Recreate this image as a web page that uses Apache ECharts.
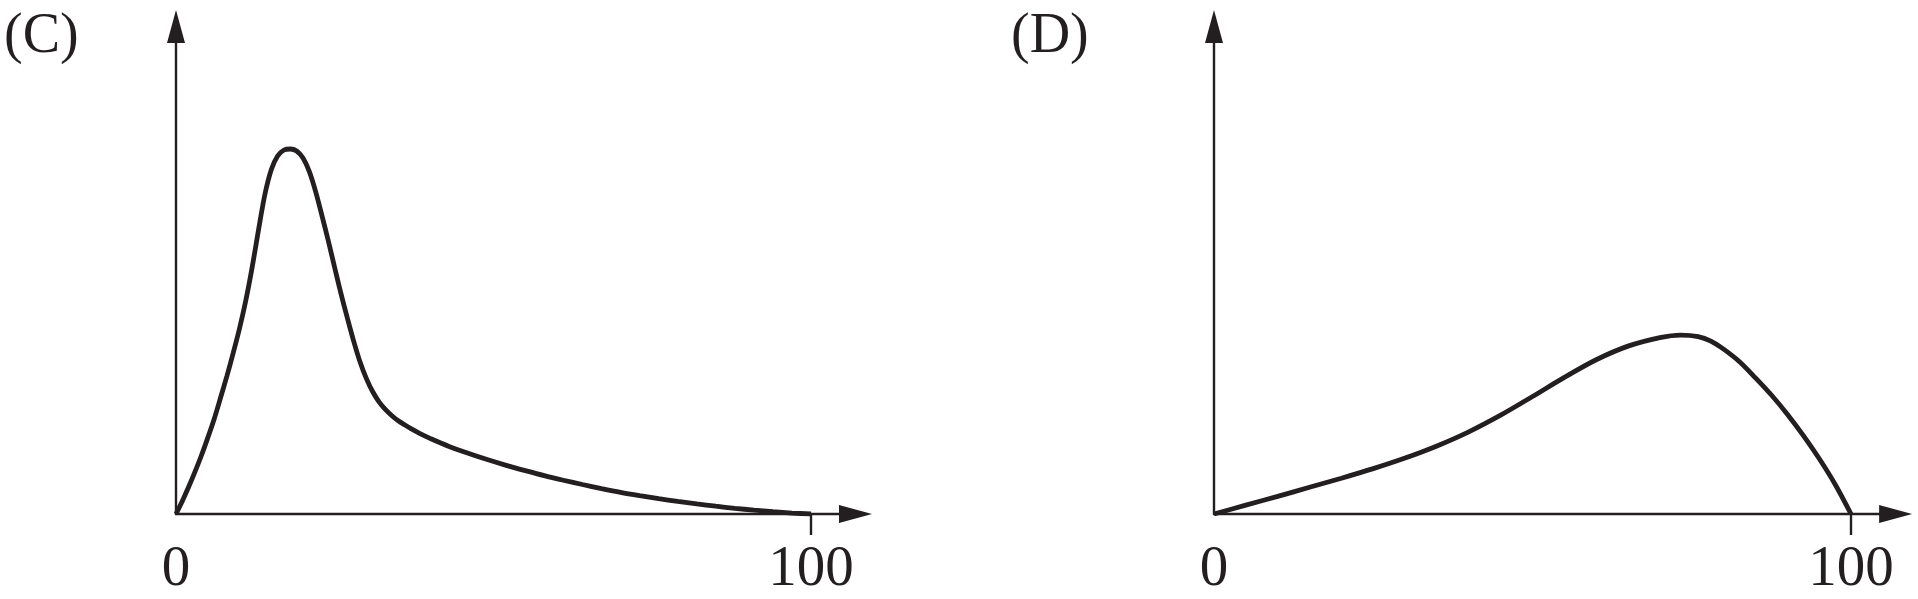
<!DOCTYPE html>
<html>
<head>
<meta charset="utf-8">
<script src="https://cdn.jsdelivr.net/npm/echarts@6/dist/echarts.min.js"></script>
<style>
  html, body { margin: 0; padding: 0; background: #fff; }
  #main { width: 1918px; height: 599px; }
</style>
</head>
<body>
<div id="main"></div>
<script>
  // 曲线 (C)：x 为 0~100，y 为相对高度
  var curveC = [
    [0, 0], [1, 2.6], [2, 5.4], [3, 8.4], [4, 11.6], [5, 15.1], [6, 18.8],
    [7, 23.0], [8, 27.3], [9, 31.9], [10, 36.8], [11, 42.4], [12, 49.0],
    [13, 56.4], [14, 63.4], [15, 68.3], [16, 71.0], [17, 72.2], [18, 72.4],
    [19, 72.0], [20, 70.6], [21, 67.9], [22, 63.9], [23, 59.1], [24, 54.1],
    [25, 48.8], [26, 43.6], [27, 38.8], [28, 34.2], [29, 30.1], [30, 26.8],
    [31, 24.2], [32, 22.2], [33, 20.7], [34, 19.5], [35, 18.5], [36, 17.7],
    [37, 16.95], [38, 16.25], [39, 15.6], [40, 15.0], [43, 13.4], [46, 12.05],
    [49, 10.8], [52, 9.65], [55, 8.6], [58, 7.6], [61, 6.7], [64, 5.85],
    [67, 5.05], [70, 4.3], [73, 3.65], [76, 3.05], [79, 2.5], [82, 2.0],
    [85, 1.55], [88, 1.13], [91, 0.77], [94, 0.45], [97, 0.19], [100, 0]
  ];
  // 曲线 (D)
  var curveD = [
    [0, 0], [5, 1.75], [10, 3.5], [15, 5.3], [20, 7.1], [25, 9.0], [30, 11.1],
    [35, 13.5], [40, 16.3], [45, 19.6], [50, 23.3], [55, 27.1], [60, 30.6],
    [65, 33.3], [70, 35.0], [73.3, 35.5], [76, 35.2], [78, 34.3], [80, 32.7],
    [82.5, 30.2], [85, 27.0], [87.5, 23.6], [90, 19.8], [92.5, 15.6],
    [95, 11.0], [97.5, 5.9], [100, 0]
  ];
  var panelNames = ["(C)", "(D)"];
  var tickValues = [100];
  var labelValues = [0, 100];

  var ink = "#231f20";
  var serif = "Liberation Serif";

  function xAxisOf(idx) {
    return {
      type: "value",
      gridIndex: idx,
      min: 0,
      max: 107,
      axisLine: {
        symbol: ["none", "triangle"],
        symbolSize: [18, 33],
        lineStyle: { color: ink, width: 2.4 }
      },
      axisTick: {
        customValues: tickValues,
        length: 21,
        lineStyle: { color: ink, width: 2.4 }
      },
      axisLabel: {
        customValues: labelValues,
        margin: 28,
        fontSize: 57,
        fontFamily: serif,
        color: ink
      },
      splitLine: { show: false }
    };
  }

  function yAxisOf(idx) {
    return {
      type: "value",
      gridIndex: idx,
      min: 0,
      max: 96.7,
      axisLine: {
        show: true,
        symbol: ["none", "triangle"],
        symbolSize: [18, 33],
        lineStyle: { color: ink, width: 2.4 }
      },
      axisTick: { show: false },
      axisLabel: { show: false },
      splitLine: { show: false }
    };
  }

  function seriesOf(idx, data) {
    return {
      type: "line",
      xAxisIndex: idx,
      yAxisIndex: idx,
      data: data,
      smooth: 0.3,
      showSymbol: false,
      silent: true,
      lineStyle: { color: ink, width: 4.8 }
    };
  }

  var myChart = echarts.init(document.getElementById("main"));
  var option = {
    animation: false,
    backgroundColor: "#fff",
    title: [
      {
        text: panelNames[0], left: 4, top: 9, padding: 0,
        textStyle: { fontSize: 56, fontFamily: serif, fontWeight: "normal", color: ink }
      },
      {
        text: panelNames[1], left: 1011, top: 9, padding: 0,
        textStyle: { fontSize: 56, fontFamily: serif, fontWeight: "normal", color: ink }
      }
    ],
    grid: [
      { left: 176, top: 26.5, width: 679.5, height: 487.5 },
      { left: 1214, top: 26.5, width: 681.6, height: 487.5 }
    ],
    xAxis: [xAxisOf(0), xAxisOf(1)],
    yAxis: [yAxisOf(0), yAxisOf(1)],
    series: [seriesOf(0, curveC), seriesOf(1, curveD)]
  };
  myChart.setOption(option);
</script>
</body>
</html>
